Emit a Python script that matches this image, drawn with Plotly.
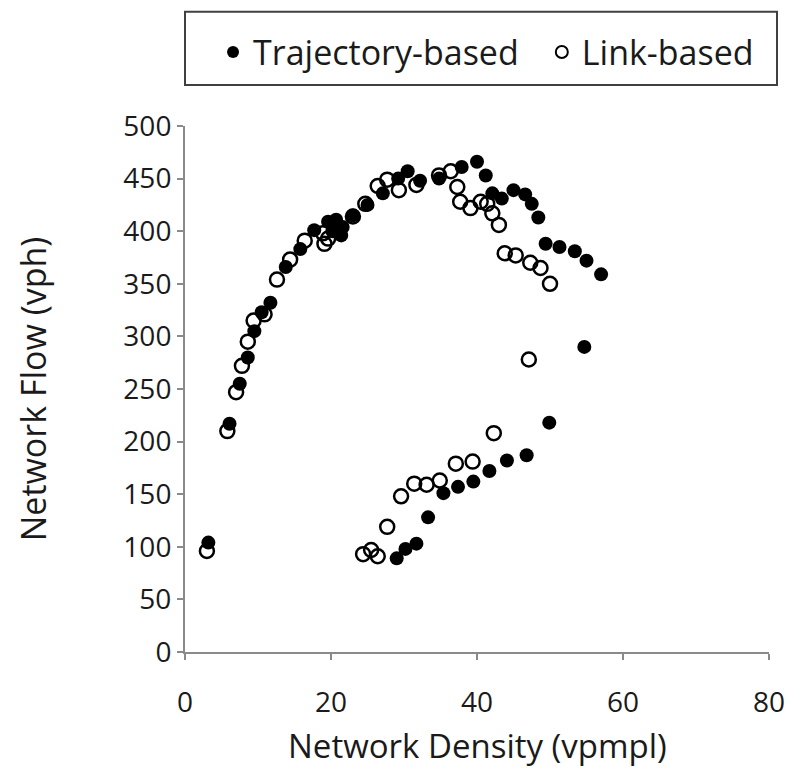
import plotly.graph_objects as go

# Network density (vpmpl) and network flow (vph) for the two estimation methods
traj_density = [3.2, 6.1, 7.5, 8.6, 9.5, 10.5, 11.7, 13.8, 15.8, 17.7, 19.6, 20.2, 20.7,
                21.4, 21.6, 23.0, 25.0, 27.1, 29.2, 30.5, 32.2, 34.8, 37.9, 40.0, 41.2,
                42.1, 43.4, 45.0, 46.6, 47.5, 48.4, 49.4, 51.3, 53.4, 55.0, 57.0, 54.7,
                49.9, 46.8, 44.1, 41.7, 39.5, 37.4, 35.4, 33.3, 31.7, 30.2, 29.0]
traj_flow = [104, 217, 255, 280, 305, 323, 332, 366, 383, 401, 409, 400, 411,
             396, 404, 415, 425, 436, 450, 457, 448, 450, 461, 466, 453,
             436, 431, 439, 435, 426, 413, 388, 385, 381, 372, 359, 290,
             218, 187, 182, 172, 162, 157, 151, 128, 103, 98, 89]

link_density = [3.0, 5.8, 7.0, 7.8, 8.6, 9.4, 10.9, 12.6, 14.4, 16.4, 18.9, 19.1, 19.6,
                23.0, 24.7, 26.4, 27.7, 29.3, 31.7, 34.8, 36.4, 37.3, 37.7, 39.1, 40.5,
                41.4, 42.1, 43.0, 43.8, 45.3, 47.3, 48.7, 50.0, 47.1, 42.3, 39.4, 37.1,
                34.9, 33.1, 31.4, 29.6, 27.7, 26.4, 25.5, 24.4]
link_flow = [96, 210, 247, 272, 295, 315, 321, 354, 373, 391, 398, 388, 393,
             414, 426, 443, 449, 439, 444, 453, 457, 442, 428, 422, 428,
             426, 417, 406, 379, 377, 370, 365, 350, 278, 208, 181, 179,
             163, 159, 160, 148, 119, 91, 97, 93]

x_ticks = [0, 20, 40, 60, 80]
y_ticks = [0, 50, 100, 150, 200, 250, 300, 350, 400, 450, 500]

FONT = "Open Sans, Noto Sans, sans-serif"
AXIS_GREY = "#8a8a8a"
TEXT = "#1a1a1a"

fig = go.Figure()
fig.add_trace(go.Scatter(
    x=traj_density, y=traj_flow, mode="markers", name="Trajectory-based",
    marker=dict(symbol="circle", size=14, color="black", line=dict(width=0)),
    legend="legend",
))
fig.add_trace(go.Scatter(
    x=link_density, y=link_flow, mode="markers", name="Link-based",
    marker=dict(symbol="circle-open", size=14, color="black", line=dict(width=2.5)),
    legend="legend2",
))

legend_common = dict(
    orientation="h", yanchor="middle", xanchor="left",
    borderwidth=0, bgcolor="rgba(0,0,0,0)",
    font=dict(family=FONT, size=34, color=TEXT),
    itemsizing="constant",
)

fig.update_layout(
    width=803, height=783,
    margin=dict(l=185, r=34, t=126, b=131),
    paper_bgcolor="white", plot_bgcolor="white",
    font=dict(family=FONT, color=TEXT, size=28),
    showlegend=True,
    legend=dict(x=0.048, y=1.14, **legend_common),
    legend2=dict(x=0.611, y=1.14, **legend_common),
    shapes=[dict(
        type="rect", xref="paper", yref="paper",
        x0=0.0, x1=1.0137, y0=1.078, y1=1.217,
        line=dict(color="#404040", width=2), fillcolor="rgba(0,0,0,0)",
    )],
    # x-axis title placed just below the tick labels
    annotations=[dict(
        text="Network Density (vpmpl)", xref="paper", yref="paper",
        x=0.5, y=-0.178, xanchor="center", yanchor="middle", showarrow=False,
        font=dict(family=FONT, size=33, color=TEXT),
    )],
    xaxis=dict(
        range=[0, 80], tickvals=x_ticks, showgrid=False, zeroline=False,
        showline=True, linecolor=AXIS_GREY, linewidth=2,
        ticks="outside", ticklen=6, tickwidth=2, tickcolor=AXIS_GREY,
        tickfont=dict(size=28), ticklabelstandoff=18,
    ),
    yaxis=dict(
        range=[0, 500], tickvals=y_ticks, showgrid=False, zeroline=False,
        showline=True, linecolor=AXIS_GREY, linewidth=2,
        ticks="outside", ticklen=6, tickwidth=2, tickcolor=AXIS_GREY,
        tickfont=dict(size=28),
        title=dict(text="Network Flow (vph)", font=dict(size=34), standoff=66),
    ),
)

fig.write_html("out.html")
